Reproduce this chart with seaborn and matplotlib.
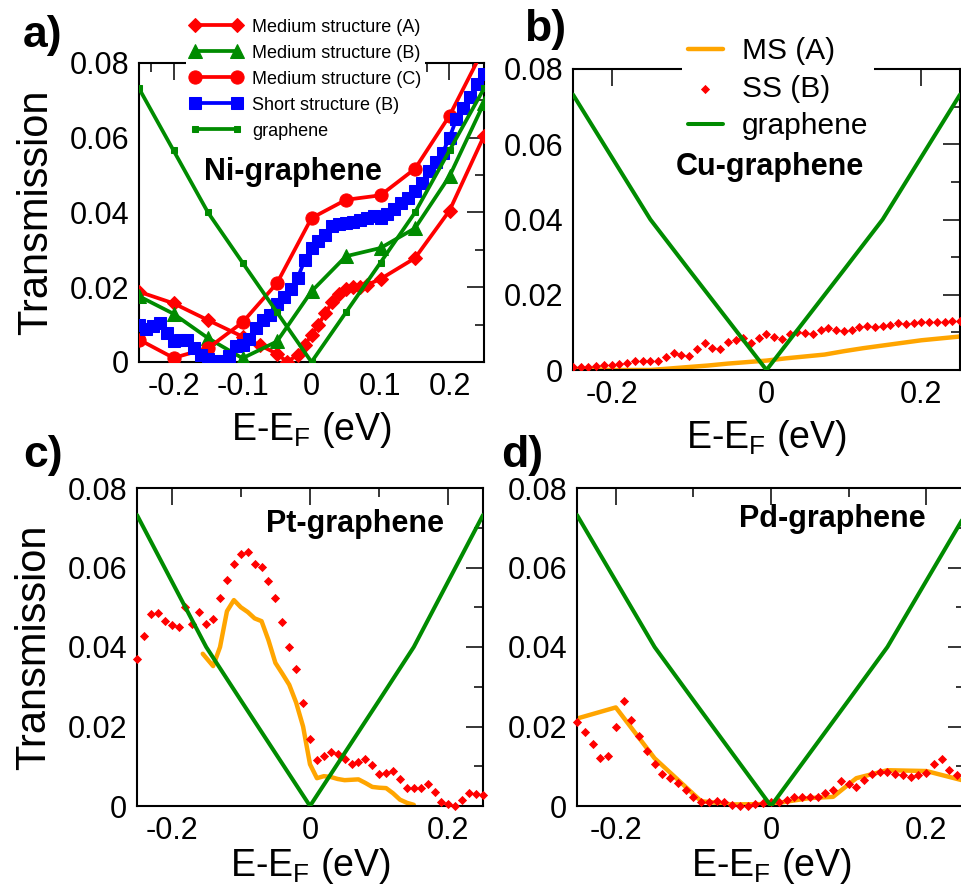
import numpy as np
import seaborn as sns
import matplotlib.pyplot as plt
from matplotlib.ticker import MultipleLocator, FuncFormatter

# ---- data ----
# pristine graphene, same curve in every panel
e_graph = [-0.25, -0.2, -0.15, -0.1, -0.05, 0.0, 0.05, 0.1, 0.15, 0.2, 0.25]
t_graph = [0.0732, 0.0566, 0.0400, 0.0266, 0.0133, 0.0, 0.0133, 0.0266, 0.0400, 0.0566, 0.0732]

# energy grid of the dense calculations (0.01 eV step)
e_fine = np.round(np.arange(-0.25, 0.2501, 0.01), 2)

# a) Ni-graphene
ni_msA_e = [-0.25, -0.2, -0.15, -0.1, -0.075, -0.05, -0.035, -0.02, -0.01, 0.0, 0.01,
            0.02, 0.03, 0.04, 0.05, 0.06, 0.07, 0.08, 0.1, 0.15, 0.2, 0.25]
ni_msA_t = [0.0188, 0.0157, 0.0112, 0.0068, 0.0045, 0.0022, 0.0000, 0.0020, 0.0045, 0.0072, 0.0100,
            0.0130, 0.0160, 0.0182, 0.0196, 0.0200, 0.0200, 0.0206, 0.0222, 0.0278, 0.0405, 0.0605]
ni_msB_t = [0.0176, 0.0129, 0.0064, 0.0010, 0.0055, 0.0189, 0.0283, 0.0305, 0.0358, 0.0497, 0.0693]
ni_msC_t = [0.0060, 0.0011, 0.0037, 0.0106, 0.0211, 0.0385, 0.0434, 0.0446, 0.0517, 0.0659, 0.0840]
ni_ss_t = [0.0100, 0.0088, 0.0095, 0.0104, 0.0078, 0.0056, 0.0058, 0.0060, 0.0038, 0.0020,
           0.0008, 0.0003, 0.0002, 0.0015, 0.0042, 0.0046, 0.0062, 0.0090, 0.0112, 0.0127,
           0.0155, 0.0175, 0.0195, 0.0225, 0.0272, 0.0305, 0.0323, 0.0340, 0.0363, 0.0370,
           0.0372, 0.0374, 0.0380, 0.0386, 0.0390, 0.0386, 0.0395, 0.0410, 0.0425, 0.0440,
           0.0458, 0.0480, 0.0510, 0.0535, 0.0560, 0.0600, 0.0650, 0.0680, 0.0710, 0.0745,
           0.0770]

# b) Cu-graphene
cu_ms_e = [-0.25, -0.225, -0.2, -0.175, -0.15, -0.125, -0.1, -0.075, -0.05, -0.025, 0.0,
           0.025, 0.05, 0.075, 0.1, 0.125, 0.15, 0.175, 0.2, 0.225, 0.25]
cu_ms_t = [0.0003, 0.0002, 0.0000, 0.0000, 0.0000, 0.0004, 0.0008, 0.0012, 0.0017, 0.0021, 0.0025,
           0.0031, 0.0036, 0.0041, 0.0050, 0.0058, 0.0065, 0.0072, 0.0079, 0.0084, 0.0089]
cu_ss_t = [0.0007, 0.0007, 0.0009, 0.0011, 0.0013, 0.0013, 0.0016, 0.0019, 0.0025, 0.0025,
           0.0025, 0.0025, 0.0034, 0.0044, 0.0040, 0.0038, 0.0056, 0.0071, 0.0058, 0.0055,
           0.0075, 0.0080, 0.0084, 0.0071, 0.0084, 0.0096, 0.0089, 0.0082, 0.0097, 0.0102,
           0.0099, 0.0096, 0.0106, 0.0111, 0.0106, 0.0104, 0.0106, 0.0115, 0.0118, 0.0115,
           0.0118, 0.0120, 0.0124, 0.0122, 0.0124, 0.0128, 0.0127, 0.0128, 0.0128, 0.0130,
           0.0130]

# c) Pt-graphene
pt_ms_e = [-0.155, -0.14, -0.13, -0.12, -0.11, -0.1, -0.09, -0.08, -0.07, -0.06, -0.05,
           -0.04, -0.03, -0.02, -0.01, 0.0, 0.01, 0.02, 0.03, 0.04, 0.05, 0.06, 0.07,
           0.08, 0.09, 0.1, 0.11, 0.12, 0.13, 0.14, 0.15]
pt_ms_t = [0.0383, 0.0352, 0.0400, 0.0490, 0.0518, 0.0500, 0.0488, 0.0472, 0.0465, 0.0417, 0.0360,
           0.0333, 0.0305, 0.0260, 0.0200, 0.0105, 0.0070, 0.0075, 0.0073, 0.0068, 0.0065, 0.0066,
           0.0067, 0.0058, 0.0048, 0.0046, 0.0045, 0.0032, 0.0016, 0.0008, 0.0003]
pt_ss_t = [0.0369, 0.0428, 0.0484, 0.0486, 0.0465, 0.0455, 0.0450, 0.0501, 0.0459, 0.0489,
           0.0459, 0.0471, 0.0523, 0.0568, 0.0608, 0.0633, 0.0639, 0.0610, 0.0601, 0.0565,
           0.0523, 0.0463, 0.0400, 0.0345, 0.0260, 0.0168, 0.0115, 0.0125, 0.0136, 0.0132,
           0.0119, 0.0105, 0.0111, 0.0117, 0.0102, 0.0081, 0.0083, 0.0088, 0.0069, 0.0046,
           0.0046, 0.0046, 0.0056, 0.0035, 0.0010, 0.0006, 0.0000, 0.0016, 0.0033, 0.0029,
           0.0027]

# d) Pd-graphene
pd_ms_e = [-0.25, -0.2, -0.15, -0.09, -0.05, 0.0, 0.05, 0.08, 0.11, 0.15, 0.2, 0.25]
pd_ms_t = [0.0220, 0.0248, 0.0120, 0.0012, 0.0004, 0.0005, 0.0020, 0.0023, 0.0070, 0.0090, 0.0088, 0.0063]
pd_ss_t = [0.0211, 0.0186, 0.0155, 0.0122, 0.0125, 0.0200, 0.0264, 0.0217, 0.0175, 0.0138,
           0.0105, 0.0081, 0.0071, 0.0058, 0.0041, 0.0023, 0.0010, 0.0010, 0.0012, 0.0010,
           0.0002, 0.0000, 0.0000, 0.0004, 0.0008, 0.0010, 0.0010, 0.0016, 0.0023, 0.0023,
           0.0023, 0.0023, 0.0033, 0.0041, 0.0062, 0.0056, 0.0048, 0.0065, 0.0081, 0.0086,
           0.0086, 0.0081, 0.0077, 0.0073, 0.0077, 0.0083, 0.0106, 0.0119, 0.0091, 0.0077,
           0.0094]

RED = '#ff0000'
GREEN = '#008b00'
BLUE = '#0000ff'
ORANGE = '#ffa500'

sns.set_theme(style="white")
plt.rcParams['font.family'] = ['Liberation Sans', 'DejaVu Sans']
plt.rcParams['mathtext.default'] = 'regular'
plt.rcParams['axes.linewidth'] = 1.5
plt.rcParams['axes.edgecolor'] = 'black'
plt.rcParams['text.color'] = 'black'
plt.rcParams['axes.labelcolor'] = 'black'
plt.rcParams['xtick.color'] = 'black'
plt.rcParams['ytick.color'] = 'black'

W, H = 962, 886
fig = plt.figure(figsize=(W / 100, H / 100), dpi=100)


def px_axes(left, top, right, bottom):
    return fig.add_axes([left / W, 1 - bottom / H, (right - left) / W, (bottom - top) / H])


def fmt(v, pos):
    return '%g' % round(v, 3)


def style_axes(ax, xmajor, xminor, xpad):
    ax.set_xlim(-0.25, 0.25)
    ax.set_ylim(0, 0.08)
    ax.xaxis.set_major_locator(MultipleLocator(xmajor))
    ax.xaxis.set_minor_locator(MultipleLocator(xminor))
    ax.yaxis.set_major_locator(MultipleLocator(0.02))
    ax.yaxis.set_minor_locator(MultipleLocator(0.01))
    ax.xaxis.set_major_formatter(FuncFormatter(fmt))
    ax.yaxis.set_major_formatter(FuncFormatter(fmt))
    ax.tick_params(which='both', direction='in', top=True, right=True,
                   width=1.1, colors='black', labelsize=22, pad=7)
    ax.tick_params(which='major', length=12.5)
    ax.tick_params(which='minor', length=6.5)
    ax.set_xlabel('E-E$_F$ (eV)', fontsize=27, labelpad=xpad)
    for s in ax.spines.values():
        s.set_visible(True)
        s.set_color('black')


ax_a = px_axes(139, 63, 484, 362)
ax_b = px_axes(573, 69, 960, 370)
ax_c = px_axes(137, 488, 483, 806)
ax_d = px_axes(577, 488, 965, 806)

# ---- a) Ni-graphene ----
sns.lineplot(x=ni_msA_e, y=ni_msA_t, ax=ax_a, color=RED, lw=2.7, marker='D', ms=7.5,
             mec=RED, label='Medium structure (A)', zorder=3)
sns.lineplot(x=e_graph, y=ni_msB_t, ax=ax_a, color=GREEN, lw=2.7, marker='^', ms=10,
             mec=GREEN, label='Medium structure (B)', zorder=3)
sns.lineplot(x=e_graph, y=ni_msC_t, ax=ax_a, color=RED, lw=2.7, marker='o', ms=9.5,
             mec=RED, label='Medium structure (C)', zorder=3)
sns.lineplot(x=e_fine, y=ni_ss_t, ax=ax_a, color=BLUE, lw=2.7, marker='s', ms=8,
             mec=BLUE, label='Short structure (B)', zorder=3)
sns.lineplot(x=e_graph, y=t_graph, ax=ax_a, color=GREEN, lw=2.7, marker='s', ms=4.5,
             mec=GREEN, label='graphene', zorder=3)
style_axes(ax_a, 0.1, 0.1 / 3, 6)
ax_a.set_ylabel('Transmission', fontsize=30, labelpad=10)
ax_a.legend(loc='upper left', bbox_to_anchor=(186 / W, 1 - 15 / H), bbox_transform=fig.transFigure,
            fontsize=13, numpoints=2, handlelength=2.9, handletextpad=0.55, labelspacing=0.5,
            borderpad=0.2, borderaxespad=0, frameon=True, fancybox=False, framealpha=1,
            facecolor='white', edgecolor='none')

# ---- b) Cu-graphene ----
sns.lineplot(x=cu_ms_e, y=cu_ms_t, ax=ax_b, color=ORANGE, lw=3.2, label='MS (A)', zorder=2)
sns.scatterplot(x=e_fine, y=cu_ss_t, ax=ax_b, color=RED, marker='D', s=22, linewidth=0,
                label='SS (B)', zorder=3)
sns.lineplot(x=e_graph, y=t_graph, ax=ax_b, color=GREEN, lw=2.9, label='graphene', zorder=4)
style_axes(ax_b, 0.2, 0.1, 6)
ax_b.legend(loc='upper left', bbox_to_anchor=(682 / W, 1 - 31 / H), bbox_transform=fig.transFigure,
            fontsize=21.5, scatterpoints=1, handlelength=1.17, handletextpad=0.63, labelspacing=0.32,
            borderpad=0.2, borderaxespad=0, frameon=True, fancybox=False, framealpha=1,
            facecolor='white', edgecolor='none')

# ---- c) Pt-graphene ----
sns.lineplot(x=pt_ms_e, y=pt_ms_t, ax=ax_c, color=ORANGE, lw=3.2, zorder=2)
sns.scatterplot(x=e_fine, y=pt_ss_t, ax=ax_c, color=RED, marker='D', s=22, linewidth=0,
                zorder=3, clip_on=False)
sns.lineplot(x=e_graph, y=t_graph, ax=ax_c, color=GREEN, lw=2.9, zorder=4)
style_axes(ax_c, 0.2, 0.1, 0)
ax_c.set_ylabel('Transmission', fontsize=30, labelpad=10)

# ---- d) Pd-graphene ----
sns.lineplot(x=pd_ms_e, y=pd_ms_t, ax=ax_d, color=ORANGE, lw=3.2, zorder=2)
sns.scatterplot(x=e_fine, y=pd_ss_t, ax=ax_d, color=RED, marker='D', s=22, linewidth=0,
                zorder=3, clip_on=False)
sns.lineplot(x=e_graph, y=t_graph, ax=ax_d, color=GREEN, lw=2.9, zorder=4)
style_axes(ax_d, 0.2, 0.1, 0)

# panel titles and letters
for txt, x, y in [('Ni-graphene', 293, 172), ('Cu-graphene', 770, 167),
                  ('Pt-graphene', 355, 524), ('Pd-graphene', 832, 519)]:
    fig.text(x / W, 1 - y / H, txt, fontsize=22, fontweight='bold', ha='center', va='center')
for txt, x, y in [('a)', 43, 35), ('b)', 545, 30), ('c)', 43, 455), ('d)', 522, 455)]:
    fig.text(x / W, 1 - y / H, txt, fontsize=32, fontweight='bold', ha='center', va='center')

fig.savefig('out.png', dpi=100, facecolor='white')
